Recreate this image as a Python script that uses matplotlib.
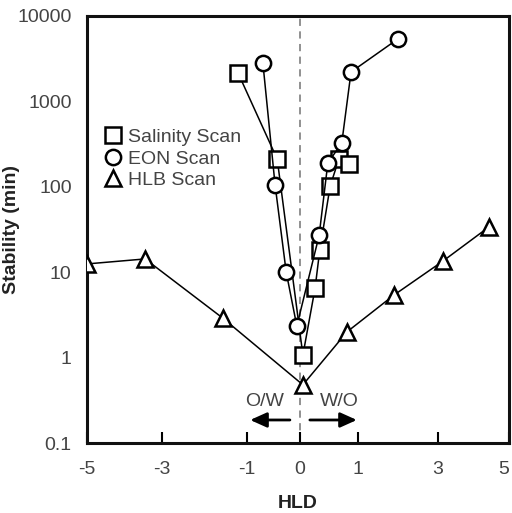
import numpy as np
import matplotlib
matplotlib.use("Agg")
import matplotlib.pyplot as plt

plt.rcParams['font.family'] = ['Liberation Sans', 'DejaVu Sans']

# HLD axis of the original is not evenly spaced, so map it piecewise
tick_vals = [-5, -3, -1, 0, 1, 3, 5]
tick_pos = [87, 162, 247, 300, 358, 438, 509]

# data
sal_x = [-1.21, -0.43, 0.05, 0.26, 0.34, 0.52, 0.67, 0.84]
sal_y = [2150, 211, 1.07, 6.5, 18, 102, 211, 185]

eon_x = [-0.70, -0.47, -0.26, -0.06, 0.33, 0.48, 0.72, 0.88, 2.0]
eon_y = [2800, 105, 10, 2.34, 27, 190, 325, 2210, 5400]

hlb_x = [-5, -3.45, -1.57, 0.05, 0.81, 1.9, 3.14, 4.44]
hlb_y = [12.5, 14.3, 2.9, 0.48, 2.0, 5.4, 13.5, 34]


def fwd(x):
    return np.interp(x, tick_vals, tick_pos)


def inv(p):
    return np.interp(p, tick_pos, tick_vals)


fig = plt.figure(figsize=(5.12, 5.13), dpi=100)
ax = fig.add_axes([87 / 512, 1 - 443 / 513, 422 / 512, 427 / 513])
ax.set_xscale('function', functions=(fwd, inv))
ax.set_yscale('log')
ax.set_xlim(-5, 5)
ax.set_ylim(0.1, 10000)

ax.axvline(0, color='#888888', lw=1.3, ls=(0, (4, 3)), zorder=1)

mk = dict(color='black', lw=1.1, mfc='white', mec='black', mew=1.8, ms=11, zorder=3)
ax.plot(hlb_x, hlb_y, marker='^', label='HLB Scan', **mk)
ax.plot(sal_x, sal_y, marker='s', label='Salinity Scan', **mk)
ax.plot(eon_x, eon_y, marker='o', label='EON Scan', **mk)

# O/W and W/O arrows
arr = dict(arrowstyle='-|>,head_length=1.0,head_width=0.45', color='black', lw=2,
           shrinkA=0, shrinkB=0)
ax.annotate('', xy=(-0.94, 0.186), xytext=(-0.19, 0.186), arrowprops=arr)
ax.annotate('', xy=(0.98, 0.186), xytext=(0.17, 0.186), arrowprops=arr)
ax.text(-0.66, 0.31, 'O/W', fontsize=14, color='#444444', ha='center', va='center')
ax.text(0.67, 0.31, 'W/O', fontsize=14, color='#444444', ha='center', va='center')

ax.set_xticks(tick_vals)
ax.set_xticklabels([str(v) for v in tick_vals])
ax.get_xticklabels()[-1].set_ha('right')
ax.set_yticks([0.1, 1, 10, 100, 1000, 10000])
ax.set_yticklabels(['0.1', '1', '10', '100', '1000', '10000'])
ax.minorticks_off()
ax.tick_params(axis='x', direction='in', length=8, width=1.5, pad=13,
               labelsize=14, labelcolor='#444444')
ax.tick_params(axis='y', length=0, pad=11, labelsize=14, labelcolor='#444444')

for s in ax.spines.values():
    s.set_linewidth(2.2)
    s.set_color('#111111')

ax.set_xlabel('HLD', fontsize=14, fontweight='bold', color='#222222', labelpad=12)
ax.set_ylabel('Stability (min)', fontsize=14, fontweight='bold', color='#222222')
ax.yaxis.set_label_coords(-0.159, 0.5)

h, l = ax.get_legend_handles_labels()
order = [1, 2, 0]
leg = ax.legend([h[i] for i in order], [l[i] for i in order], loc='upper left',
                bbox_to_anchor=(0.02, 0.755), frameon=False, fontsize=14,
                handlelength=1.0, handletextpad=0.3, labelspacing=0.2,
                borderaxespad=0)
for t in leg.get_texts():
    t.set_color('#444444')
for lh in leg.get_lines():
    lh.set_linestyle('none')

fig.savefig('out.png', dpi=100)
